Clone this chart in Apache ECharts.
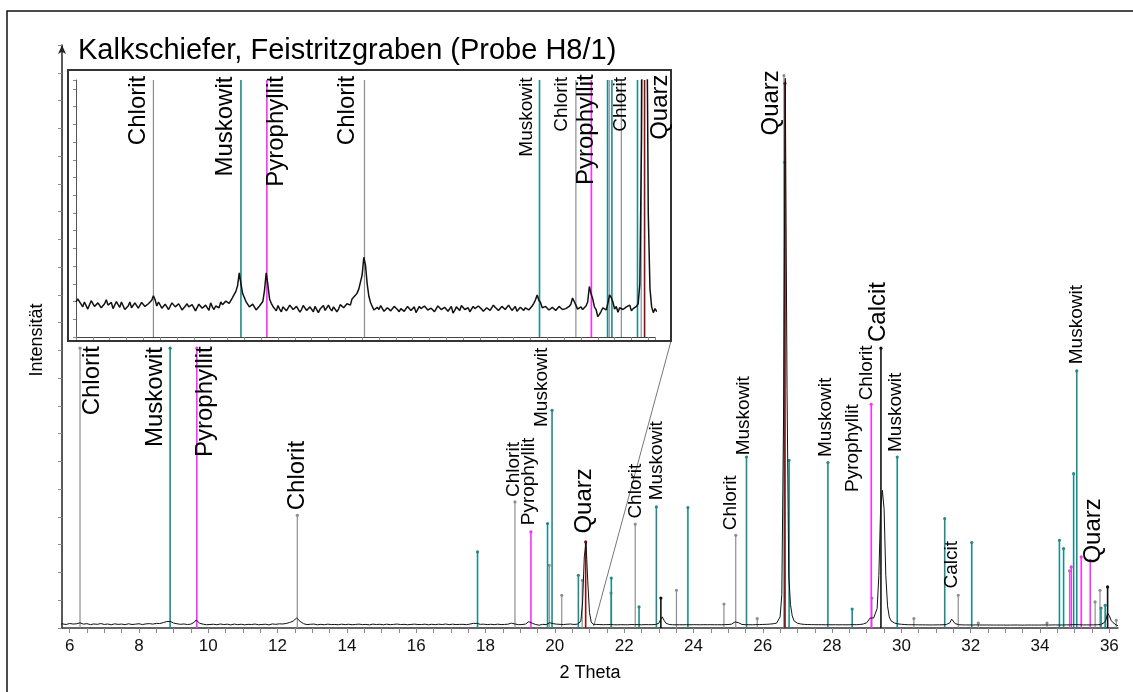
<!DOCTYPE html>
<html>
<head>
<meta charset="utf-8">
<title>Kalkschiefer, Feistritzgraben (Probe H8/1)</title>
<script src="https://cdn.jsdelivr.net/npm/echarts@6/dist/echarts.min.js"></script>
<style>
  html, body { margin: 0; padding: 0; background: #fff; }
  #chart { width: 1133px; height: 692px; }
</style>
</head>
<body>
<div id="chart"></div>
<script>
// step scan: start 4.00 deg 2Theta, step 0.05 deg, intensity in arbitrary units
var scanStart = 4.0
var scanStep = 0.05
var scanCounts = [
  7.9, 8.6, 9.0, 7.4, 6.8, 7.9, 7.6, 6.3, 6.5, 8.2, 8.1, 6.9, 6.9, 7.7, 7.8, 6.6, 6.2, 7.5, 8.4, 7.2,
  7.0, 7.8, 6.4, 6.1, 8.0, 7.3, 6.7, 7.9, 7.5, 6.2, 5.9, 7.0, 7.9, 6.6, 6.8, 7.7, 7.4, 6.5, 6.3, 7.8,
  8.2, 6.9, 7.1, 7.5, 7.6, 8.3, 9.3, 8.4, 7.0, 7.9, 7.8, 6.5, 6.1, 7.4, 7.3, 6.2, 6.6, 7.7, 8.0, 6.8,
  6.4, 7.5, 7.2, 6.1, 5.8, 7.0, 7.5, 6.8, 6.5, 7.3, 7.1, 5.9, 6.0, 7.4, 7.6, 6.5, 6.3, 7.2, 6.9, 6.0,
  7.7, 6.8, 6.2, 7.0, 7.4, 6.6, 7.9, 7.3, 7.0, 8.1, 8.3, 7.6, 8.0, 8.9, 9.6, 10.3, 11.6, 14.5, 12.0, 9.8,
  8.9, 8.0, 7.6, 6.8, 6.6, 7.4, 7.3, 6.1, 6.2, 7.0, 7.0, 8.0, 10.5, 14.5, 11.8, 8.6, 7.6, 6.9, 6.4, 5.9,
  7.1, 6.3, 5.7, 6.8, 6.9, 5.9, 6.0, 7.2, 7.3, 6.2, 5.8, 6.9, 6.6, 5.6, 6.2, 7.1, 7.0, 6.0, 5.6, 6.8,
  6.4, 5.7, 6.9, 6.6, 5.5, 6.3, 6.7, 7.1, 6.0, 5.8, 7.2, 6.4, 5.9, 6.8, 6.8, 5.7, 6.3, 7.3, 7.4, 6.6,
  6.9, 7.5, 7.8, 7.2, 8.6, 8.2, 9.4, 9.9, 10.8, 12.4, 14.0, 18.0, 16.2, 12.0, 9.2, 7.8, 6.9, 6.1, 5.8, 6.7,
  6.2, 7.1, 7.0, 5.8, 5.6, 6.6, 6.5, 5.9, 6.0, 6.9, 7.1, 6.2, 5.7, 6.4, 6.4, 5.8, 5.9, 6.9, 6.8, 6.0,
  6.1, 6.8, 5.5, 5.9, 6.9, 6.4, 6.2, 7.0, 7.2, 6.1, 5.8, 6.5, 6.6, 5.7, 6.0, 7.0, 7.3, 6.2, 5.9, 6.7,
  6.7, 5.8, 6.1, 6.9, 5.4, 6.0, 6.8, 6.5, 6.0, 7.1, 7.0, 6.2, 6.3, 6.6, 5.7, 5.9, 6.9, 6.4, 6.2, 7.0,
  7.1, 6.3, 5.8, 6.2, 6.6, 6.9, 6.0, 5.8, 7.2, 6.7, 6.4, 6.0, 5.9, 6.9, 6.8, 6.2, 6.1, 7.2, 7.0, 6.0,
  6.3, 6.9, 5.8, 6.2, 6.7, 6.5, 6.0, 6.6, 6.9, 6.1, 6.4, 7.0, 7.6, 8.4, 9.5, 8.3, 7.8, 6.6, 6.2, 6.9,
  6.9, 6.1, 5.9, 6.7, 6.6, 6.0, 6.1, 6.9, 7.0, 6.2, 5.8, 6.4, 6.5, 6.9, 7.4, 8.8, 8.0, 7.2, 6.3, 6.0,
  6.8, 6.2, 6.4, 7.0, 7.9, 11.4, 9.8, 8.6, 6.8, 6.2, 4.6, 5.1, 5.8, 6.6, 6.5, 6.1, 7.6, 9.5, 8.9, 7.9,
  6.3, 6.9, 5.6, 6.6, 6.9, 6.2, 6.0, 6.8, 6.6, 7.2, 5.9, 6.4, 6.7, 6.9, 7.5, 12, 45, 128, 155, 85,
  28, 11, 6.8, 5.5, 6.4, 5.8, 6.2, 6.0, 5.9, 6.3, 6.1, 5.8, 6.2, 6.0, 5.9, 6.1, 5.7, 6.2, 6.0, 5.9,
  5.9, 6.1, 5.8, 6.0, 6.2, 5.8, 6.1, 5.9, 6.0, 6.2, 5.8, 6.0, 6.1, 5.9, 6.0, 6.1, 6.0, 5.9, 6.2, 6.5,
  8.5, 15, 20, 14, 9.0, 7.0, 6.3, 6.0, 5.9, 6.1, 5.8, 6.0, 5.9, 6.0, 5.8, 6.1, 5.9, 6.0, 5.8, 5.9,
  6.0, 5.8, 5.9, 6.1, 5.8, 5.9, 6.0, 5.7, 5.9, 5.8, 6.0, 5.9, 5.8, 5.7, 5.9, 6.0, 5.8, 6.0, 6.1, 6.0,
  6.2, 6.4, 6.9, 8.2, 11.0, 13.0, 9.5, 7.2, 6.4, 6.0, 6.0, 5.8, 5.9, 6.0, 5.8, 5.9, 6.1, 6.0, 6.2, 6.3,
  6.4, 6.5, 6.6, 6.8, 7.0, 7.3, 7.6, 8.0, 8.8, 10.5, 20, 60, 380, 990, 430, 95, 42, 22, 13, 10,
  8.6, 7.8, 7.2, 6.8, 6.5, 6.3, 6.2, 6.0, 6.1, 5.9, 6.0, 5.8, 5.9, 5.8, 6.0, 5.9, 5.8, 5.7, 5.9, 5.8,
  5.8, 5.7, 5.9, 5.8, 5.7, 5.8, 5.9, 5.8, 5.7, 5.8, 5.9, 5.8, 6.0, 5.9, 6.0, 6.2, 6.3, 6.6, 7.2, 8.0,
  9.5, 13, 18, 20, 18, 17, 35, 95, 215, 248, 215, 95, 40, 20, 13, 10, 9.0, 8.0, 7.4, 7.0,
  6.7, 6.4, 6.2, 6.0, 5.9, 5.8, 5.9, 5.7, 5.8, 5.6, 5.7, 5.6, 5.7, 5.5, 5.6, 5.7, 5.5, 5.6, 5.5, 5.6,
  5.6, 5.5, 5.7, 5.6, 5.8, 6.0, 6.4, 7.2, 9.5, 16, 12.5, 8.0, 6.6, 6.0, 5.8, 5.6, 5.7, 5.5, 5.6, 5.5,
  5.5, 5.4, 5.5, 5.6, 5.4, 5.5, 5.3, 5.4, 5.5, 5.4, 5.3, 5.4, 5.5, 5.3, 5.4, 5.3, 5.4, 5.3, 5.2, 5.3,
  5.3, 5.2, 5.4, 5.3, 5.2, 5.3, 5.2, 5.4, 5.3, 5.2, 5.3, 5.2, 5.3, 5.4, 5.2, 5.3, 5.2, 5.3, 5.4, 5.3,
  5.3, 5.4, 5.3, 5.5, 5.4, 5.3, 5.4, 5.5, 5.4, 5.6, 5.5, 5.4, 5.6, 5.5, 5.7, 5.6, 5.8, 5.7, 5.9, 6.0,
  6.2, 6.1, 5.9, 5.8, 5.7, 5.6, 5.5, 5.6, 5.5, 5.6, 5.5, 5.7, 5.6, 5.8, 5.9, 6.2, 7.0, 9.5, 14, 27,
  22, 14, 10, 7.5, 5.2, 4.0
]

// reference patterns: [2Theta, relative height]
var chlorit = [
  [6.30, 504], [12.57, 203], [18.85, 227], [19.84, 113], [20.20, 59], [20.79, 86], [21.62, 63],
  [22.32, 187], [23.51, 68], [24.88, 43], [25.22, 167], [25.84, 17], [26.61, 995], [29.15, 54],
  [30.36, 17], [31.64, 59], [32.22, 9], [34.20, 9], [34.85, 103], [35.59, 47], [35.73, 68], [36.20, 14]
]
var muskowit = [
  [8.90, 504], [17.77, 137], [19.79, 188], [19.92, 392], [20.68, 95], [21.63, 90], [22.43, 38],
  [22.93, 218], [23.84, 217], [25.53, 308], [26.63, 839], [26.76, 302], [27.88, 298], [28.58, 34],
  [29.88, 308], [31.25, 197], [32.03, 154], [34.56, 158], [34.68, 143], [34.97, 278], [35.06, 463],
  [35.76, 36], [35.88, 41]
]
var pyrophyllit = [[9.67, 504], [19.31, 173], [29.13, 403], [34.90, 110], [35.19, 128], [35.45, 122]]
var quarz = [[20.89, 155], [26.64, 981]]
var calcit = [[23.06, 54], [29.41, 504], [35.95, 74]]

var xTickLabels = [6, 8, 10, 12, 14, 16, 18, 20, 22, 24, 26, 28, 30, 32, 34, 36]

// peak labels: [text, 2Theta, intensity]
var mainLabelsLarge = [
  ['Chlorit', 6.66, 383], ['Muskowit', 8.47, 326], ['Pyrophyllit', 9.92, 308], ['Chlorit', 12.57, 212],
  ['Quarz', 20.84, 170], ['Quarz', 26.26, 887], ['Calcit', 29.34, 515], ['Quarz', 35.53, 116]
]
var mainLabelsSmall = [
  ['Chlorit', 18.82, 236], ['Pyrophyllit', 19.25, 185], ['Muskowit', 19.61, 362], ['Chlorit', 22.33, 197],
  ['Muskowit', 22.93, 230], ['Chlorit', 25.07, 176], ['Muskowit', 25.45, 311], ['Muskowit', 27.81, 308],
  ['Pyrophyllit', 28.61, 245], ['Chlorit', 29.0, 410], ['Muskowit', 29.83, 317], ['Calcit', 31.46, 71],
  ['Muskowit', 35.07, 475]
]
var insetLabelsLarge = [
  ['Chlorit', 5.85, 43.3], ['Muskowit', 8.43, 36.2], ['Pyrophyllit', 9.95, 33.9], ['Chlorit', 12.06, 43.3],
  ['Pyrophyllit', 19.17, 34.3], ['Quarz', 21.36, 44.5]
]
var insetLabelsSmall = [['Muskowit', 17.40, 40.7], ['Chlorit', 18.44, 46.3], ['Chlorit', 20.17, 46.3]]

var FONT = '"Liberation Sans", Arial, sans-serif'
var scan = scanCounts.map(function (c, i) {
  return [+(scanStart + i * scanStep).toFixed(2), c]
})
var xMinorTicks = []
for (var t = 6; t <= 36; t += 0.5) xMinorTicks.push(t)

function stickSeries (data, color, idx, width) {
  return {
    type: 'custom',
    xAxisIndex: idx,
    yAxisIndex: idx,
    z: 2,
    silent: true,
    data: data,
    renderItem: function (params, api) {
      var cs = params.coordSys
      var base = api.coord([api.value(0), 0])
      var top = api.coord([api.value(0), api.value(1)])
      if (base[0] < cs.x || base[0] > cs.x + cs.width) return
      var clipped = top[1] < cs.y
      var y1 = Math.max(top[1], cs.y)
      var kids = [{
        type: 'line',
        shape: { x1: base[0], y1: base[1], x2: base[0], y2: y1 },
        style: { stroke: color, lineWidth: width }
      }]
      if (!clipped) {
        kids.push({ type: 'circle', shape: { cx: base[0], cy: y1, r: 1.6 }, style: { fill: color } })
      }
      return { type: 'group', children: kids }
    }
  }
}

function patternSeries (idx) {
  return [
    stickSeries(chlorit, '#8e8e8e', idx, 1.2),
    stickSeries(muskowit, '#1e8c8c', idx, 1.6),
    stickSeries(pyrophyllit, '#ff2cff', idx, 1.6),
    stickSeries(quarz, '#8a1111', idx, 1.6),
    stickSeries(calcit, '#111111', idx, 1.6)
  ]
}

var series = patternSeries(0).concat([{
  type: 'line', xAxisIndex: 0, yAxisIndex: 0, data: scan, z: 5, silent: true,
  showSymbol: false, symbol: 'none', lineStyle: { color: '#111', width: 1 }
}]).concat(patternSeries(1)).concat([{
  type: 'line', xAxisIndex: 1, yAxisIndex: 1, data: scan, z: 5, silent: true,
  showSymbol: false, symbol: 'none', lineStyle: { color: '#111', width: 1.5 }
}])

var chart = echarts.init(document.getElementById('chart'))
chart.setOption({
  animation: false,
  grid: [
    { left: 62, right: 15, top: 45, bottom: 64 },
    { left: 76, right: 478, top: 80, bottom: 355 }
  ],
  xAxis: [{
    gridIndex: 0, type: 'value', min: 5.78, max: 36.25,
    axisLine: { lineStyle: { color: '#333', width: 1.5 } },
    axisTick: { length: 5, lineStyle: { color: '#888' }, customValues: xMinorTicks },
    axisLabel: { customValues: xTickLabels, fontSize: 17, color: '#111', fontFamily: FONT, margin: 10 },
    splitLine: { show: false }
  }, {
    gridIndex: 1, type: 'value', min: 4, max: 21.2, interval: 0.5,
    axisLine: { lineStyle: { color: '#444', width: 1.2 } },
    axisTick: { length: 3, lineStyle: { color: '#888' } },
    axisLabel: { show: false },
    splitLine: { show: false }
  }],
  yAxis: [{
    gridIndex: 0, type: 'value', min: 0, max: 1050, interval: 50,
    axisLine: { show: true, symbol: ['none', 'arrow'], symbolSize: [6, 9], lineStyle: { color: '#222', width: 1.5 } },
    axisTick: { show: true, length: 4, lineStyle: { color: '#888' } },
    axisLabel: { show: false },
    splitLine: { show: false }
  }, {
    gridIndex: 1, type: 'value', min: 0, max: 58, interval: 4,
    axisLine: { show: true, lineStyle: { color: '#555', width: 1 } },
    axisTick: { show: true, length: 3, lineStyle: { color: '#888' } },
    axisLabel: { show: false },
    splitLine: { show: false }
  }],
  series: series
})

// peak labels, title and frames
function vLabel (item, idx, size) {
  var p = chart.convertToPixel({ xAxisIndex: idx, yAxisIndex: idx }, [item[1], item[2]])
  return {
    type: 'text', x: p[0], y: p[1], rotation: Math.PI / 2, z: 20, silent: true,
    style: { text: item[0], fill: '#000', font: size + 'px ' + FONT, align: 'left', verticalAlign: 'middle' }
  }
}
var graphics = []
mainLabelsLarge.forEach(function (d) { graphics.push(vLabel(d, 0, 24)) })
mainLabelsSmall.forEach(function (d) { graphics.push(vLabel(d, 0, 19)) })
insetLabelsLarge.forEach(function (d) { graphics.push(vLabel(d, 1, 24)) })
insetLabelsSmall.forEach(function (d) { graphics.push(vLabel(d, 1, 19)) })

var foot = chart.convertToPixel({ xAxisIndex: 0, yAxisIndex: 0 }, [21.12, 3])
graphics.push(
  { type: 'rect', shape: { x: 7, y: 11, width: 1200, height: 800 }, silent: true,
    style: { fill: 'none', stroke: '#111', lineWidth: 1.5 } },
  { type: 'rect', shape: { x: 68, y: 70, width: 603, height: 271 }, silent: true, z: 10,
    style: { fill: 'none', stroke: '#333', lineWidth: 2 } },
  { type: 'line', shape: { x1: 671, y1: 341, x2: foot[0], y2: foot[1] }, silent: true,
    style: { stroke: '#777', lineWidth: 1 } },
  { type: 'text', x: 78, y: 51, silent: true,
    style: { text: 'Kalkschiefer, Feistritzgraben (Probe H8/1)', fill: '#000', font: '29px ' + FONT,
      align: 'left', verticalAlign: 'middle' } },
  { type: 'text', x: 590, y: 673, silent: true,
    style: { text: '2 Theta', fill: '#000', font: '18px ' + FONT, align: 'center', verticalAlign: 'middle' } },
  { type: 'text', x: 37, y: 340, rotation: Math.PI / 2, silent: true,
    style: { text: 'Intensität', fill: '#000', font: '18px ' + FONT, align: 'center', verticalAlign: 'middle' } }
)
chart.setOption({ graphic: graphics })
</script>
</body>
</html>
